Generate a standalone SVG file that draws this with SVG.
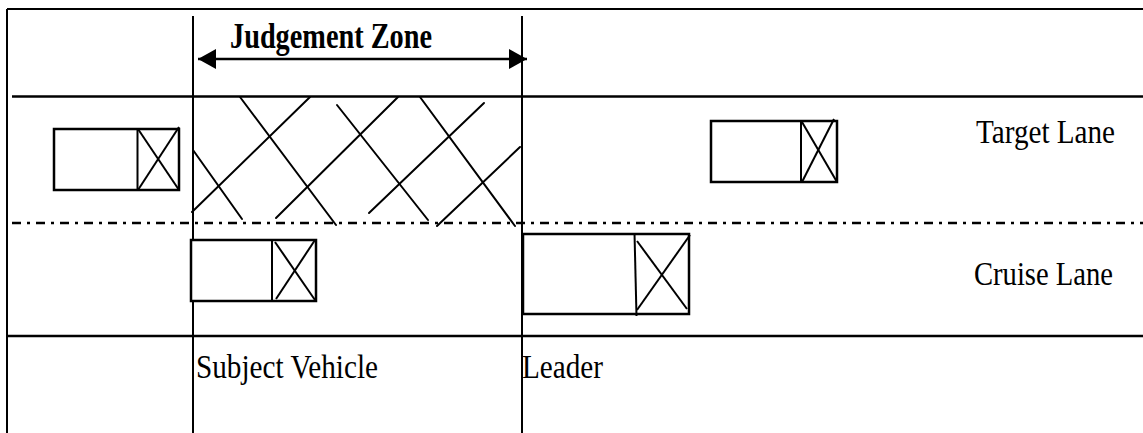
<svg xmlns="http://www.w3.org/2000/svg" width="1143" height="433" viewBox="0 0 1143 433">
  <style>
    .frame { stroke: #000; stroke-width: 2; fill: none; }
    .lane { stroke: #000; stroke-width: 2.5; fill: none; }
    .divider { stroke: #000; stroke-width: 2.5; fill: none; stroke-dasharray: 9 6 3 6; }
    .hatch { stroke: #000; stroke-width: 2; fill: none; stroke-linecap: round; }
    .car { stroke: #000; stroke-width: 2.5; fill: #fff; }
    .cab { stroke: #000; stroke-width: 2; fill: none; }
    .label { font-family: "Liberation Serif", "Times New Roman", serif; font-size: 34px; fill: #000; }
    .title { font-family: "Liberation Serif", "Times New Roman", serif; font-size: 36px; font-weight: bold; fill: #000; }
  </style>
  <defs>
    <marker id="arrowEnd" markerUnits="userSpaceOnUse" markerWidth="20" markerHeight="22" refX="18" refY="10" orient="auto">
      <path d="M0,0 L18,10 L0,20 Z" fill="#000"/>
    </marker>
    <marker id="arrowStart" markerUnits="userSpaceOnUse" markerWidth="20" markerHeight="22" refX="0" refY="10" orient="auto">
      <path d="M18,0 L0,10 L18,20 Z" fill="#000"/>
    </marker>
  </defs>

  <rect width="1143" height="433" fill="#fff"/>

  <!-- road outline and lane markings -->
  <g id="road">
    <line class="frame" x1="7" y1="9" x2="1143" y2="9"/>
    <line class="frame" x1="7" y1="9" x2="7" y2="433"/>
    <line class="lane" x1="12" y1="96.5" x2="1143" y2="96.5"/>
    <line class="divider" x1="12" y1="223" x2="1143" y2="223"/>
    <line class="lane" x1="8" y1="336" x2="1143" y2="336"/>
  </g>

  <!-- judgement zone boundaries, hatched area and span arrow -->
  <g id="judgement-zone">
    <line class="frame" x1="193" y1="16" x2="193" y2="433"/>
    <line class="frame" x1="522" y1="16" x2="522" y2="433"/>
    <g id="hatching">
      <line class="hatch" x1="193" y1="150" x2="242" y2="219"/>
      <line class="hatch" x1="240" y1="97" x2="336" y2="225"/>
      <line class="hatch" x1="337" y1="105" x2="428" y2="220"/>
      <line class="hatch" x1="420" y1="97" x2="515" y2="226"/>
      <line class="hatch" x1="192" y1="212" x2="310" y2="97"/>
      <line class="hatch" x1="276" y1="218" x2="398" y2="97"/>
      <line class="hatch" x1="369" y1="213" x2="484" y2="103"/>
      <line class="hatch" x1="437" y1="226" x2="520" y2="147"/>
    </g>
    <line id="zone-span" x1="198" y1="59" x2="527" y2="59" stroke="#000" stroke-width="2.5" marker-start="url(#arrowStart)" marker-end="url(#arrowEnd)"/>
    <text class="title" x="230" y="48" textLength="202" lengthAdjust="spacingAndGlyphs">Judgement Zone</text>
  </g>

  <!-- vehicles: body with a crossed cab box at the front -->
  <g id="car-rear-target">
    <rect class="car" x="54" y="129" width="125" height="61"/>
    <line class="cab" x1="137.5" y1="129" x2="137.5" y2="190"/>
    <line class="cab" x1="138" y1="129" x2="179" y2="190"/>
    <line class="cab" x1="179" y1="127" x2="138" y2="190"/>
  </g>

  <g id="car-front-target">
    <rect class="car" x="711" y="121" width="126" height="61"/>
    <line class="cab" x1="801" y1="121" x2="801" y2="182"/>
    <line class="cab" x1="802" y1="122" x2="837" y2="182"/>
    <line class="cab" x1="834" y1="119" x2="802" y2="182"/>
  </g>

  <g id="subject-vehicle">
    <rect class="car" x="191" y="240" width="125" height="61"/>
    <line class="cab" x1="272" y1="240" x2="272" y2="301"/>
    <line class="cab" x1="275" y1="242" x2="315" y2="300"/>
    <line class="cab" x1="315" y1="240" x2="276" y2="299"/>
  </g>

  <g id="leader">
    <rect class="car" x="523" y="234" width="166" height="80"/>
    <line class="cab" x1="634.5" y1="233" x2="636.5" y2="316"/>
    <line class="cab" x1="637" y1="241" x2="687" y2="309"/>
    <line class="cab" x1="690" y1="235" x2="637" y2="310"/>
  </g>

  <!-- labels -->
  <g id="labels">
    <text class="label" x="976" y="143" textLength="139" lengthAdjust="spacingAndGlyphs">Target Lane</text>
    <text class="label" x="974" y="285" textLength="139" lengthAdjust="spacingAndGlyphs">Cruise Lane</text>
    <text class="label" x="196" y="378" textLength="182" lengthAdjust="spacingAndGlyphs">Subject Vehicle</text>
    <text class="label" x="522" y="378" textLength="81" lengthAdjust="spacingAndGlyphs">Leader</text>
  </g>
</svg>
